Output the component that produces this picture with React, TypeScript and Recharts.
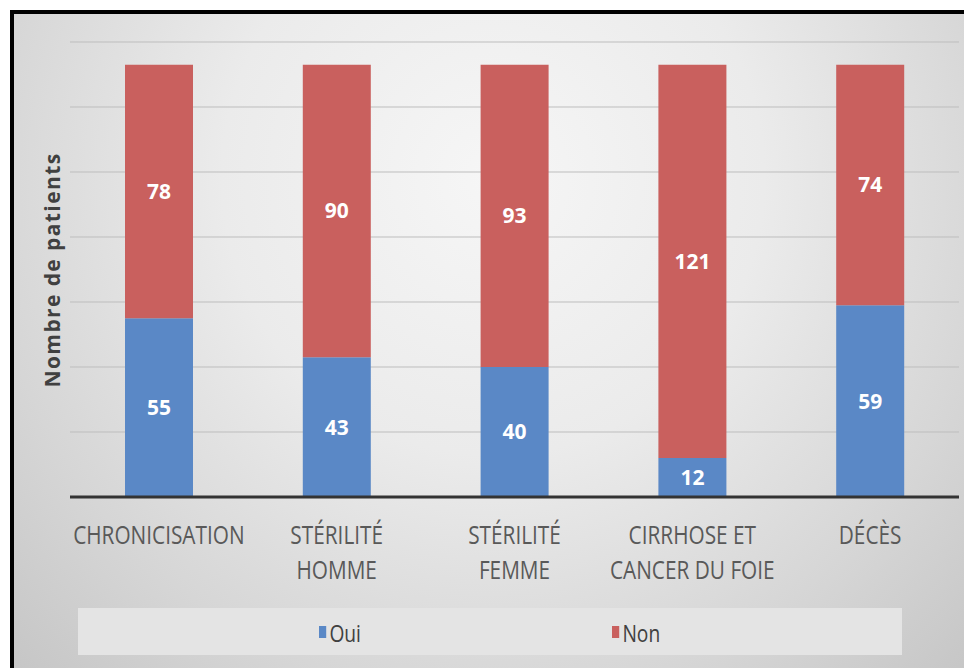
import React from "react";
import { BarChart, Bar, XAxis, YAxis, CartesianGrid, LabelList } from "recharts";

const categories = [
  "CHRONICISATION",
  "STÉRILITÉ\nHOMME",
  "STÉRILITÉ\nFEMME",
  "CIRRHOSE ET\nCANCER DU FOIE",
  "DÉCÈS",
];
const oui = [55, 43, 40, 12, 59];
const non = [78, 90, 93, 121, 74];
const yTicks = [0, 20, 40, 60, 80, 100, 120, 140];
const seriesNames = ["Oui", "Non"];
const yTitle = "Nombre de patients";

const BLUE = "#5A88C6";
const RED = "#C9605E";
const FONT = "'Open Sans', sans-serif";

const data = categories.map((c, i) => ({ name: c, oui: oui[i], non: non[i] }));

const Tick = (props: any) => {
  const { x, y, payload } = props;
  const lines = String(payload.value).split("\n");
  return (
    <g transform={`translate(${x},${y}) scale(0.8,1)`}>
      {lines.map((l: string, i: number) => (
        <text
          key={i}
          x={0}
          y={39 + i * 35}
          textAnchor="middle"
          fill="#595959"
          fontSize={26}
          fontFamily={FONT}
        >
          {l}
        </text>
      ))}
    </g>
  );
};

export default function App() {
  return (
    <div style={{ padding: "2px 0 0 2px", background: "#fff", width: 964 }}>
      <div
        style={{
          position: "relative",
          width: 958,
          height: 654,
          borderTop: "4px solid #000",
          borderLeft: "4px solid #000",
          background:
            "radial-gradient(ellipse at 50% 25%, #f6f6f6 0%, #ebebeb 40%, #d6d6d6 75%, #c6c6c6 100%)",
          overflow: "hidden",
        }}
      >
        <BarChart
          width={958}
          height={654}
          data={data}
          margin={{ top: 28, right: 13, left: 56, bottom: 157 }}
        >
          <CartesianGrid vertical={false} stroke="#bdbdbd" strokeWidth={1} />
          <YAxis hide domain={[0, 140]} ticks={yTicks} />
          <XAxis
            dataKey="name"
            axisLine={{ stroke: "#333", strokeWidth: 3 }}
            tickLine={false}
            tick={<Tick />}
            interval={0}
            height={14}
          />
          <Bar dataKey="oui" stackId="a" fill={BLUE} barSize={68} isAnimationActive={false}>
            <LabelList
              dataKey="oui"
              position="center"
              fill="#fff"
              fontSize={21}
              fontWeight="bold"
              fontFamily={FONT}
            />
          </Bar>
          <Bar dataKey="non" stackId="a" fill={RED} barSize={68} isAnimationActive={false}>
            <LabelList
              dataKey="non"
              position="center"
              fill="#fff"
              fontSize={21}
              fontWeight="bold"
              fontFamily={FONT}
            />
          </Bar>
        </BarChart>
        <div
          style={{
            position: "absolute",
            left: 38 - 150,
            top: 256 - 13,
            width: 300,
            height: 26,
            transform: "rotate(-90deg)",
            textAlign: "center",
            fontFamily: FONT,
            fontWeight: "bold",
            fontSize: 21,
            letterSpacing: 1.4,
            color: "#404040",
            lineHeight: "26px",
            whiteSpace: "nowrap",
          }}
        >
          {yTitle}
        </div>
        <div
          style={{
            position: "absolute",
            left: 64,
            top: 594,
            width: 824,
            height: 47,
            background: "#e4e4e4",
            fontFamily: FONT,
            fontSize: 24,
            color: "#404040",
          }}
        >
          {seriesNames.map((n, i) => (
            <div
              key={n}
              style={{
                position: "absolute",
                left: i === 0 ? 241 : 534,
                top: 9,
                display: "flex",
                alignItems: "center",
                height: 30,
                transform: "scaleX(0.8)",
                transformOrigin: "left center",
              }}
            >
              <span
                style={{
                  display: "inline-block",
                  width: 9,
                  height: 12,
                  background: i === 0 ? BLUE : RED,
                  marginRight: 4,
                }}
              />
              <span>{n}</span>
            </div>
          ))}
        </div>
      </div>
    </div>
  );
}
